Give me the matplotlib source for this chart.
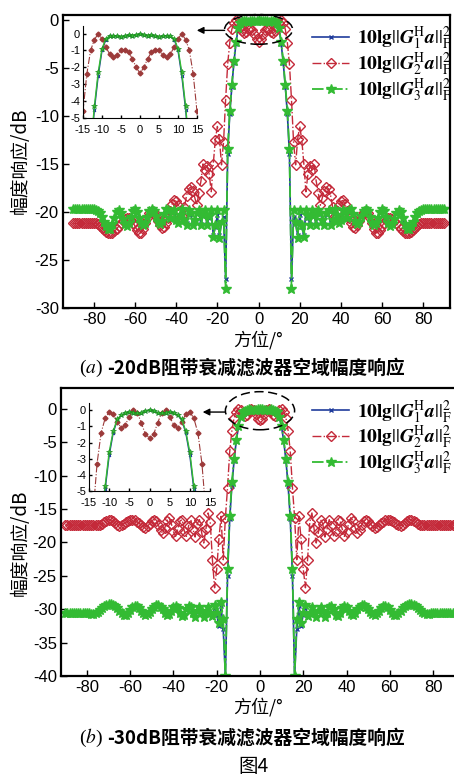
import numpy as np
import matplotlib.pyplot as plt
from matplotlib.patches import Ellipse

plt.rcParams['font.family'] = ['Liberation Sans', 'Noto Sans CJK SC']
plt.rcParams['mathtext.fontset'] = 'stix'
plt.rcParams['axes.unicode_minus'] = False

# azimuth 0..90 deg (responses are symmetric about 0 deg)
deg = np.arange(0, 91)

# (a) -20 dB stop-band filter
a_g3 = [-0.05, -0.08, -0.12, -0.10, -0.15, -0.20, -0.15, -0.12, -0.15, -0.30,
        -0.9, -2.3, -4.3, -6.8, -9.5, -13.5, -28.0, -19.8, -21.0, -22.7,
        -19.8, -21.4, -22.6, -19.8, -20.4, -21.4, -19.8, -20.3, -21.4, -19.8,
        -20.1, -20.8, -21.4, -20.1, -19.8, -21.4, -20.8, -19.7, -20.3, -21.2,
        -20.8, -19.8, -20.0, -20.6, -19.8, -19.7, -20.2, -20.9, -21.3, -21.0,
        -20.4, -19.9, -19.7, -19.9, -20.5, -21.1, -21.4, -21.2, -20.6, -20.0,
        -19.7, -19.9, -20.5, -21.2, -21.5, -21.3, -20.7, -20.1, -19.8, -20.0,
        -20.6, -21.3, -21.8, -21.8, -21.5, -21.0, -20.5, -20.1, -19.9, -19.8,
        -19.7, -19.7, -19.7, -19.7, -19.7, -19.7, -19.7, -19.7, -19.7, -19.7,
        -19.7]
a_g1 = [-0.05, -0.08, -0.12, -0.10, -0.15, -0.20, -0.15, -0.12, -0.16, -0.35,
        -1.0, -2.5, -4.5, -7.0, -9.8, -14.0, -27.0, -20.5, -21.2, -22.4,
        -20.3, -21.6, -22.4, -20.0, -20.6, -21.3, -20.0, -20.4, -21.3, -19.9,
        -20.2, -20.8, -21.3, -20.2, -19.9, -21.2, -20.7, -19.8, -20.3, -21.1,
        -20.7, -19.9, -20.0, -20.6, -19.9, -19.7, -20.2, -20.9, -21.3, -21.0,
        -20.4, -19.9, -19.7, -19.9, -20.5, -21.1, -21.4, -21.2, -20.6, -20.0,
        -19.7, -19.9, -20.5, -21.2, -21.5, -21.3, -20.7, -20.1, -19.8, -20.0,
        -20.6, -21.3, -21.8, -21.8, -21.5, -21.0, -20.5, -20.1, -19.9, -19.8,
        -19.7, -19.7, -19.7, -19.7, -19.7, -19.7, -19.7, -19.7, -19.7, -19.7,
        -19.7]
a_g2 = [-2.35, -2.0, -1.5, -1.1, -0.95, -1.0, -1.25, -1.4, -1.2, -0.8,
        -0.3, -0.02, -0.35, -1.0, -2.4, -4.6, -8.3, -12.7, -15.1, -12.4,
        -11.1, -12.5, -15.0, -17.9, -16.0, -15.2, -15.6, -15.0, -16.8, -18.0,
        -19.3, -18.5, -17.8, -17.4, -17.6, -18.3, -19.5, -20.4, -19.9, -19.3,
        -18.9, -18.8, -19.2, -19.9, -20.6, -21.2, -21.6, -21.7, -21.4, -20.9,
        -20.4, -20.0, -19.9, -20.1, -20.6, -21.2, -21.8, -22.2, -22.2, -21.9,
        -21.5, -21.1, -20.8, -20.6, -20.6, -20.7, -20.9, -21.2, -21.5, -21.8,
        -22.0, -22.2, -22.2, -22.2, -22.1, -21.9, -21.7, -21.5, -21.3, -21.2,
        -21.2, -21.2, -21.2, -21.2, -21.2, -21.2, -21.2, -21.2, -21.2, -21.2,
        -21.2]

# (b) -30 dB stop-band filter
b_g3 = [0.0, -0.05, -0.15, -0.20, -0.15, -0.10, -0.20, -0.30, -0.55, -1.3,
        -2.6, -4.7, -7.5, -11.0, -16.0, -24.0, -40.0, -31.5, -29.0, -32.0,
        -30.5, -29.3, -31.0, -30.6, -29.6, -30.4, -31.2, -30.2, -29.6, -30.3,
        -31.1, -30.6, -29.7, -29.5, -30.0, -30.8, -31.0, -30.5, -29.8, -29.5,
        -29.7, -30.2, -30.7, -30.8, -30.5, -30.0, -29.6, -29.4, -29.4, -29.6,
        -30.0, -30.4, -30.7, -30.8, -30.6, -30.2, -29.8, -29.5, -29.5, -29.7,
        -30.1, -30.5, -30.8, -30.8, -30.6, -30.2, -29.8, -29.5, -29.3, -29.2,
        -29.2, -29.3, -29.5, -29.8, -30.1, -30.4, -30.6, -30.7, -30.7, -30.6,
        -30.5, -30.5, -30.5, -30.5, -30.5, -30.5, -30.5, -30.5, -30.5, -30.5,
        -30.5]
b_g1 = [0.0, -0.05, -0.15, -0.20, -0.15, -0.10, -0.20, -0.30, -0.6, -1.4,
        -2.8, -4.9, -7.8, -11.5, -16.5, -25.0, -40.0, -33.0, -29.5, -32.5,
        -30.8, -29.5, -31.2, -30.6, -29.7, -30.4, -31.1, -30.2, -29.7, -30.3,
        -31.0, -30.6, -29.7, -29.5, -30.0, -30.8, -31.0, -30.5, -29.8, -29.5,
        -29.7, -30.2, -30.7, -30.8, -30.5, -30.0, -29.6, -29.4, -29.4, -29.6,
        -30.0, -30.4, -30.7, -30.8, -30.6, -30.2, -29.8, -29.5, -29.5, -29.7,
        -30.1, -30.5, -30.8, -30.8, -30.6, -30.2, -29.8, -29.5, -29.3, -29.2,
        -29.2, -29.3, -29.5, -29.8, -30.1, -30.4, -30.6, -30.7, -30.7, -30.6,
        -30.5, -30.5, -30.5, -30.5, -30.5, -30.5, -30.5, -30.5, -30.5, -30.5,
        -30.5]
b_g2 = [-1.7, -1.5, -0.8, -0.15, 0.0, -0.4, -0.9, -1.1, -0.7, -0.25,
        -0.1, -0.5, -1.4, -3.3, -6.4, -11.8, -16.3, -22.6, -16.1, -19.5,
        -24.0, -26.8, -22.6, -17.0, -15.6, -18.0, -20.1, -18.5, -16.6, -17.2,
        -19.2, -18.0, -16.6, -17.5, -19.1, -18.3, -16.6, -16.8, -18.0, -19.1,
        -18.4, -17.2, -16.3, -16.8, -17.8, -18.6, -18.2, -17.4, -16.8, -16.6,
        -16.8, -17.2, -17.6, -17.8, -17.7, -17.4, -17.1, -16.9, -16.7, -16.6,
        -16.6, -16.8, -17.0, -17.2, -17.4, -17.5, -17.4, -17.1, -16.8, -16.6,
        -16.6, -16.8, -17.0, -17.2, -17.4, -17.4, -17.4, -17.4, -17.4, -17.4,
        -17.4, -17.4, -17.4, -17.4, -17.4, -17.4, -17.4, -17.4, -17.4, -17.4,
        -17.4]

theta = np.concatenate([-deg[:0:-1], deg])


def full(half):
    half = np.asarray(half, dtype=float)
    return np.concatenate([half[:0:-1], half])


blue = '#1f3c9c'
red = '#c42a3a'
dred = '#9c3a3a'
green = '#33bb33'

labels = [r'$\mathbf{10lg}||\mathbfit{G}_{1}^{\mathrm{H}}\mathbfit{a}||_{\mathrm{F}}^{2}$',
          r'$\mathbf{10lg}||\mathbfit{G}_{2}^{\mathrm{H}}\mathbfit{a}||_{\mathrm{F}}^{2}$',
          r'$\mathbf{10lg}||\mathbfit{G}_{3}^{\mathrm{H}}\mathbfit{a}||_{\mathrm{F}}^{2}$']


def curves(ax, g1, g2, g3, small=False):
    if small:
        ax.plot(theta, full(g1), '-', color=blue, lw=1.0, marker='x', ms=2)
        ax.plot(theta, full(g2), '-.', color=dred, lw=0.8, marker='D', ms=2.5,
                mfc=dred, mec=dred)
        ax.plot(theta, full(g3), '-', color=green, lw=1.0, marker='*', ms=4,
                mec='#1a8a1a', mew=0.4)
        return []
    h1, = ax.plot(theta, full(g1), '-', color=blue, lw=1.2, marker='x', ms=3)
    h2, = ax.plot(theta, full(g2), '-.', color=red, lw=1.0, marker='D', ms=5.5,
                  mfc='none', mec=red, mew=1.0)
    h3, = ax.plot(theta, full(g3), '-.', color=green, lw=1.3, marker='*', ms=7,
                  mec=green)
    return [h1, h2, h3]


def style(ax, yt, xt, size):
    ax.set_yticks(yt)
    ax.set_xticks(xt)
    ax.tick_params(direction='in', length=4, width=1, labelsize=size, pad=3)


fig = plt.figure(figsize=(4.54, 7.79), dpi=100)
W, H = 454.0, 779.0

panels = [
    (a_g1, a_g2, a_g3, -30, 0.5, -95, 93, (63, 15, 450, 308), (83, 26, 197, 118),
     (0, -1.0, 33, 3.1), (-16.5, -30, -1.1), 'a', 368, 161, 340),
    (b_g1, b_g2, b_g3, -40, 3.1, -92, 92, (61, 388, 459, 676), (89, 403, 210, 491),
     (0, -0.3, 32, 5.7), (-16.3, -26.5, -0.5), 'b', 738, 543, 707),
]

for k, (g1, g2, g3, ylo, yhi, xlo, xhi, box, ibox, ell, arr, cap, capy, yl, xl) in enumerate(panels):
    x0, y0, x1, y1 = box
    ax = fig.add_axes([x0 / W, 1 - y1 / H, (x1 - x0) / W, (y1 - y0) / H])
    hs = curves(ax, g1, g2, g3)
    ax.set_xlim(xlo, xhi)
    ax.set_ylim(ylo, yhi)
    style(ax, np.arange(ylo, 1, 5), np.arange(-80, 81, 20), 12)
    for s in ax.spines.values():
        s.set_linewidth(1.6)
    ax.add_patch(Ellipse((ell[0], ell[1]), ell[2], ell[3], fill=False, ls=(0, (6, 3)),
                         lw=1.1, color='black', clip_on=False, zorder=5))
    ax.annotate('', xy=(arr[1], arr[2]), xytext=(arr[0], arr[2]),
                arrowprops=dict(arrowstyle='-|>', color='black', lw=1.0,
                                mutation_scale=10, shrinkA=0, shrinkB=0))
    ax.legend(hs, labels, loc='upper right', bbox_to_anchor=(452 / W, 1 - (y0 + 10) / H),
              bbox_transform=fig.transFigure, frameon=False, fontsize=14,
              handlelength=1.9, handletextpad=0.4, labelspacing=-0.1,
              borderpad=0, borderaxespad=0, numpoints=1)

    i0, j0, i1, j1 = ibox
    ins = fig.add_axes([i0 / W, 1 - j1 / H, (i1 - i0) / W, (j1 - j0) / H])
    curves(ins, g1, g2, g3, small=True)
    ins.set_xlim(-15, 15)
    ins.set_ylim(-5, 0.45)
    style(ins, [0, -1, -2, -3, -4, -5], [-15, -10, -5, 0, 5, 10, 15], 8)
    ins.tick_params(length=2.5)
    ins.tick_params(axis='x', pad=5)
    ins.tick_params(axis='y', pad=2)
    ins.spines['top'].set_visible(False)
    ins.spines['right'].set_visible(False)
    ins.patch.set_alpha(0)

    fig.text(20 / W, 1 - yl / H, '幅度响应/dB', rotation=90, ha='center', va='center',
             fontsize=13.5, family=['Noto Sans CJK SC'])
    fig.text(258 / W, 1 - xl / H, '方位/°', ha='center', va='center', fontsize=13,
             family=['Noto Sans CJK SC', 'DejaVu Sans'])
    fig.text(103 / W, 1 - capy / H, '(' + r'$\mathit{' + cap + '}$' + ')',
             ha='right', va='center', fontsize=14, family=['Liberation Serif'])
    fig.text(107 / W, 1 - capy / H, '-%ddB阻带衰减滤波器空域幅度响应' % (20 + 10 * k),
             ha='left', va='center', fontsize=13.5, weight='bold',
             family=['Noto Sans CJK SC'])

fig.text(253 / W, 1 - 766 / H, '图4', ha='center', va='center', fontsize=14,
         family=['Noto Sans CJK SC'])

fig.savefig('out.png', dpi=100)
